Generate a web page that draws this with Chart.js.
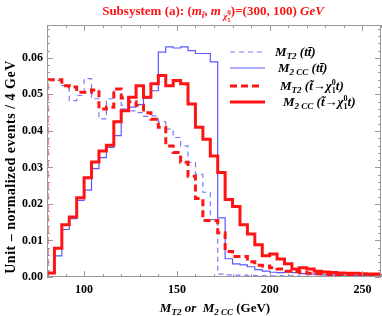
<!DOCTYPE html>
<html>
<head>
<meta charset="utf-8">
<script src="https://cdn.jsdelivr.net/npm/chart.js@4.4.0/dist/chart.umd.min.js"></script>
<style>
  html, body { margin: 0; padding: 0; background: #fff; overflow: hidden; }
  canvas { display: block; }
</style>
</head>
<body>
<canvas id="c" width="382" height="316"></canvas>
<script>
// 4 GeV bins, lower edges (last entry is the upper edge of the last bin)
const binEdges = [80, 84, 88, 92, 96, 100, 104, 108, 112, 116, 120, 124, 128, 132, 136, 140, 144, 148, 152, 156,
  160, 164, 168, 172, 176, 180, 184, 188, 192, 196, 200, 204, 208, 212, 216, 220, 224, 228, 232, 236,
  240, 244, 248, 252, 256, 260];

const mt2TT = [0.0538, 0.0538, 0.0524, 0.0483, 0.0497, 0.0543, 0.0488, 0.0433, 0.0488, 0.0515,
  0.0470, 0.0455, 0.0450, 0.0440, 0.0441, 0.0425, 0.0405, 0.0382, 0.0359, 0.0314,
  0.0281, 0.0232, 0.0157, 0.0008, 0.0006, 0.0005, 0.0005, 0.0004, 0.0004, 0.0003,
  0.0003, 0.0003, 0.0003, 0.0003, 0.0002, 0.0002, 0.0002, 0.0002, 0.0002, 0.0002,
  0.0002, 0.0002, 0.0002, 0.0002, 0.0002];

const m2ccTT = [0.0012, 0.0058, 0.0130, 0.0160, 0.0210, 0.0238, 0.0297, 0.0327, 0.0355, 0.0387,
  0.0460, 0.0465, 0.0472, 0.0490, 0.0510, 0.0616, 0.0630, 0.0627, 0.0630, 0.0620,
  0.0612, 0.0612, 0.0589, 0.0162, 0.0050, 0.0036, 0.0033, 0.0028, 0.0020, 0.0016,
  0.0013, 0.0012, 0.0014, 0.0012, 0.0009, 0.0008, 0.0007, 0.0006, 0.0006, 0.0005,
  0.0005, 0.0004, 0.0004, 0.0003, 0.0003];

const mt2Stop = [0.0540, 0.0540, 0.0524, 0.0520, 0.0506, 0.0506, 0.0512, 0.0460, 0.0465, 0.0515,
  0.0490, 0.0480, 0.0470, 0.0450, 0.0432, 0.0410, 0.0359, 0.0341, 0.0314, 0.0276,
  0.0215, 0.0155, 0.0155, 0.0121, 0.0070, 0.0056, 0.0056, 0.0042, 0.0032, 0.0030,
  0.0025, 0.0022, 0.0016, 0.0015, 0.0012, 0.0010, 0.0009, 0.0008, 0.0007, 0.0006,
  0.0005, 0.0005, 0.0004, 0.0004, 0.0003];

const m2ccStop = [0.0011, 0.0079, 0.0143, 0.0164, 0.0217, 0.0272, 0.0315, 0.0345, 0.0361, 0.0425,
  0.0455, 0.0492, 0.0524, 0.0492, 0.0529, 0.0552, 0.0524, 0.0538, 0.0529, 0.0474,
  0.0410, 0.0377, 0.0331, 0.0286, 0.0212, 0.0193, 0.0143, 0.0118, 0.0088, 0.0058,
  0.0063, 0.0049, 0.0036, 0.0022, 0.0025, 0.0022, 0.0016, 0.0014, 0.0012, 0.0011,
  0.0010, 0.0010, 0.0009, 0.0008, 0.0008];

const xTicks = [100, 150, 200, 250];
const yTicks = [0, 0.01, 0.02, 0.03, 0.04, 0.05, 0.06];

const SERIF = '"Liberation Serif", "Times New Roman", serif';
const RED = 'rgb(255,20,20)';

function steps(vals) {
  var pts = [{ x: binEdges[0], y: 0 }];
  for (var i = 0; i < vals.length; i++) pts.push({ x: binEdges[i], y: vals[i] });
  pts.push({ x: binEdges[vals.length], y: vals[vals.length - 1] });
  return pts;
}

function fontOf(p) {
  return (p.i ? 'italic ' : '') + 'bold ' + (p.s || 13) + 'px ' + SERIF;
}

// draws text made of pieces (subscripts etc.), align 'left' or 'center'
function drawRich(ctx, parts, x, y, align) {
  var w = 0;
  parts.forEach(function (p) {
    ctx.font = fontOf(p);
    p._w = ctx.measureText(p.t).width;
    if (!p.back) w += p._w;
  });
  var cx = align === 'center' ? x - w / 2 : x;
  ctx.textAlign = 'left';
  ctx.textBaseline = 'alphabetic';
  parts.forEach(function (p) {
    ctx.font = fontOf(p);
    ctx.fillText(p.t, cx, y + (p.dy || 0));
    if (!p.back) cx += p._w;
  });
}

const legendItems = [
  { color: 'rgb(120,120,255)', width: 1.2, dash: [5, 4], x1: 230, x2: 262, y: 52, tx: 275,
    parts: [{ t: 'M', i: 1 }, { t: 'T2', i: 1, s: 9, dy: 3 }, { t: ' (t', i: 1 }, { t: 't\u0304', i: 1 }, { t: ')', i: 1 }] },
  { color: 'rgb(90,90,255)', width: 1.2, dash: [], x1: 230, x2: 265, y: 68, tx: 278,
    parts: [{ t: 'M', i: 1 }, { t: '2 CC', i: 1, s: 9, dy: 3 }, { t: ' (t', i: 1 }, { t: 't\u0304', i: 1 }, { t: ')', i: 1 }] },
  { color: RED, width: 3, dash: [7, 4], x1: 230, x2: 262, y: 86, tx: 280,
    parts: [{ t: 'M', i: 1 }, { t: 'T2', i: 1, s: 9, dy: 3 }, { t: ' (t\u0303\u2192\u03c7', i: 1 },
      { t: '1', s: 8, dy: 3, back: 1 }, { t: '0', s: 8, dy: -5 }, { t: 't)', i: 1 }] },
  { color: RED, width: 3, dash: [], x1: 230, x2: 265, y: 102, tx: 283,
    parts: [{ t: 'M', i: 1 }, { t: '2 CC', i: 1, s: 9, dy: 3 }, { t: ' (t\u0303\u2192\u03c7', i: 1 },
      { t: '1', s: 8, dy: 3, back: 1 }, { t: '0', s: 8, dy: -5 }, { t: 't)', i: 1 }] }
];

const decor = {
  id: 'decor',
  afterDatasetsDraw(chart) {
    const ctx = chart.ctx, a = chart.chartArea;
    const xs = chart.scales.x, ys = chart.scales.y;
    ctx.save();
    ctx.strokeStyle = '#999';
    ctx.lineWidth = 1;
    ctx.strokeRect(Math.round(a.left) + 0.5, Math.round(a.top) + 0.5,
      Math.round(a.right - a.left) - 1, Math.round(a.bottom - a.top) - 1);
    ctx.beginPath();
    for (var v = 80; v <= 260; v += 10) {
      var px = Math.round(xs.getPixelForValue(v)) + 0.5;
      var len = v % 50 === 0 ? 6 : 3;
      ctx.moveTo(px, a.bottom); ctx.lineTo(px, a.bottom - len);
      ctx.moveTo(px, a.top); ctx.lineTo(px, a.top + len);
    }
    for (var k = 0; k <= 34; k++) {
      var py = Math.round(ys.getPixelForValue(k * 0.002)) + 0.5;
      var l2 = k % 5 === 0 ? 6 : 3;
      ctx.moveTo(a.left, py); ctx.lineTo(a.left + l2, py);
      ctx.moveTo(a.right, py); ctx.lineTo(a.right - l2, py);
    }
    ctx.stroke();

    // legend
    legendItems.forEach(function (it) {
      ctx.beginPath();
      ctx.strokeStyle = it.color;
      ctx.lineWidth = it.width;
      ctx.setLineDash(it.dash);
      ctx.moveTo(it.x1, it.y); ctx.lineTo(it.x2, it.y);
      ctx.stroke();
      ctx.setLineDash([]);
      ctx.fillStyle = '#000';
      drawRich(ctx, it.parts, it.tx, it.y + 4, 'left');
    });
    ctx.restore();
  },
  afterDraw(chart) {
    const ctx = chart.ctx;
    ctx.save();
    ctx.fillStyle = RED;
    drawRich(ctx, [
      { t: 'Subsystem (a): (' }, { t: 'm', i: 1 }, { t: 't\u0303', i: 1, s: 9, dy: 3 },
      { t: ', ' }, { t: 'm', i: 1 }, { t: ' \u03c7\u0303', i: 1, s: 9, dy: 4 },
      { t: '1', s: 7, dy: 7, back: 1 }, { t: '0', s: 7, dy: -1 },
      { t: ')=(300, 100) ' }, { t: 'GeV', i: 1 }
    ], 213, 15, 'center');

    ctx.fillStyle = '#000';
    drawRich(ctx, [
      { t: 'M', i: 1 }, { t: 'T2', i: 1, s: 9, dy: 3 }, { t: ' or  ', i: 1 },
      { t: 'M', i: 1 }, { t: '2 CC', i: 1, s: 9, dy: 3 }, { t: ' (GeV)' }
    ], 215, 312, 'center');

    ctx.translate(11, 167);
    ctx.rotate(-Math.PI / 2);
    ctx.font = 'bold 14px ' + SERIF;
    ctx.letterSpacing = '0.5px';
    ctx.textAlign = 'center';
    ctx.textBaseline = 'middle';
    ctx.fillText('Unit \u2013 normalized events / 4 GeV', 0, 0);
    ctx.restore();
  }
};

function ds(label, vals, color, width, dash, order) {
  return {
    label: label, data: steps(vals), borderColor: color, borderWidth: width,
    borderDash: dash, stepped: true, pointRadius: 0, fill: false, order: order,
    borderJoinStyle: 'miter', borderCapStyle: 'butt'
  };
}

new Chart(document.getElementById('c'), {
  type: 'line',
  data: {
    datasets: [
      ds('MT2 (tt)', mt2TT, 'rgb(120,120,255)', 1.2, [5, 4], 3),
      ds('M2CC (tt)', m2ccTT, 'rgb(90,90,255)', 1.2, [], 2),
      ds('MT2 (stop)', mt2Stop, RED, 3, [7, 4], 1),
      ds('M2CC (stop)', m2ccStop, RED, 3, [], 0)
    ]
  },
  options: {
    responsive: false,
    animation: false,
    devicePixelRatio: 1,
    layout: { padding: { top: 25, right: 1, left: 0, bottom: 0 } },
    plugins: { legend: { display: false }, tooltip: { enabled: false }, title: { display: false } },
    scales: {
      x: {
        type: 'linear', min: 80, max: 260,
        grid: { display: false, drawTicks: false },
        border: { display: false },
        afterBuildTicks: function (s) { s.ticks = xTicks.map(function (v) { return { value: v }; }); },
        afterFit: function (s) { s.height = 39; },
        ticks: { color: '#000', font: { family: SERIF, size: 12, weight: 'bold' }, padding: 6,
          maxRotation: 0, autoSkip: false, callback: function (v) { return String(v); } }
      },
      y: {
        min: 0, max: 0.069,
        grid: { display: false, drawTicks: false },
        border: { display: false },
        afterBuildTicks: function (s) { s.ticks = yTicks.map(function (v) { return { value: v }; }); },
        afterFit: function (s) { s.width = 47; },
        ticks: { color: '#000', font: { family: SERIF, size: 12, weight: 'bold' }, padding: 4,
          autoSkip: false, callback: function (v) { return v.toFixed(2); } }
      }
    }
  },
  plugins: [decor]
});
</script>
</body>
</html>
